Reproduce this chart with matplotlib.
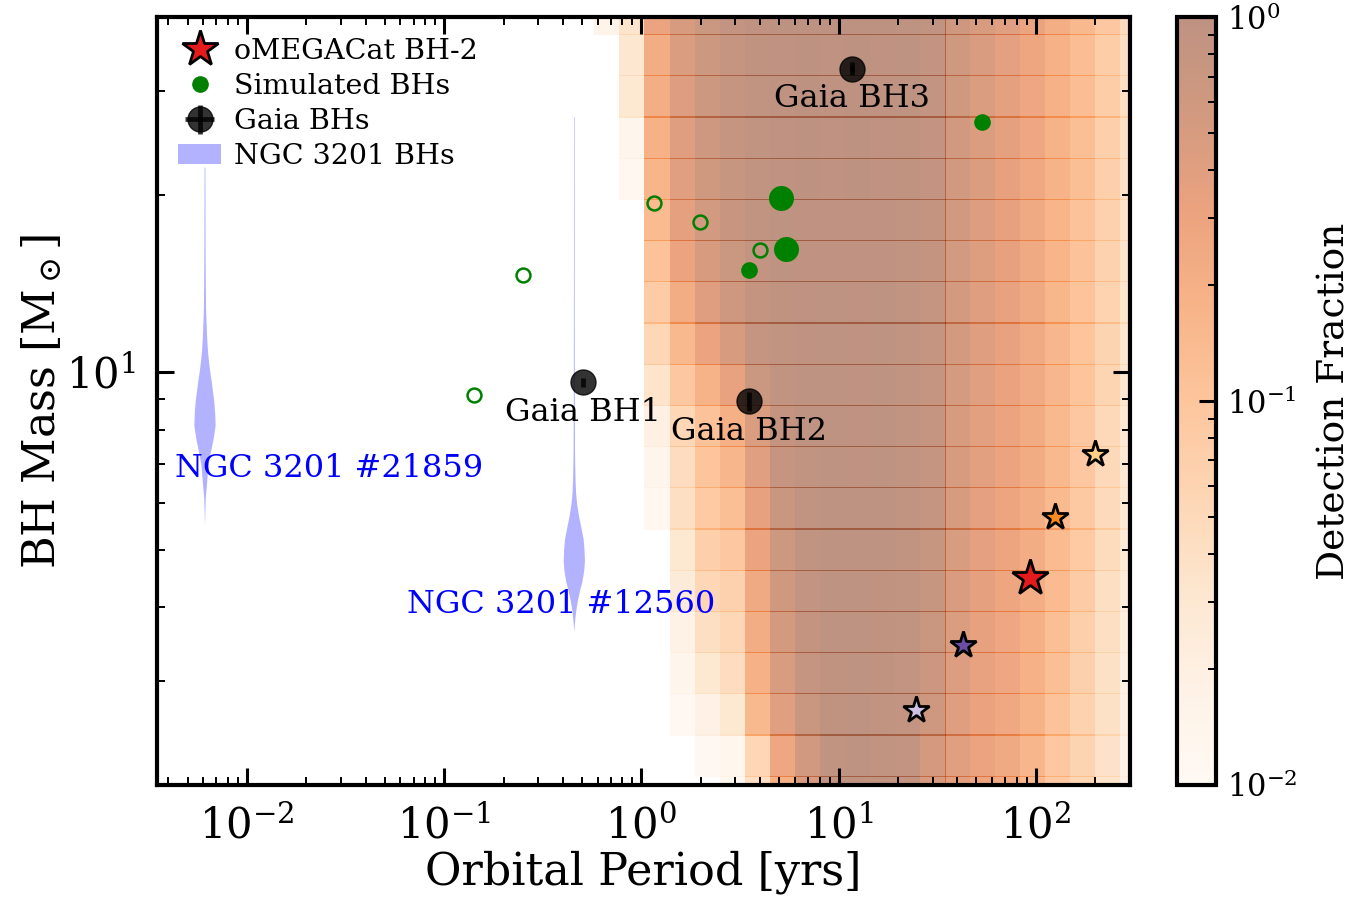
import numpy as np
import matplotlib
matplotlib.use("Agg")
import matplotlib.pyplot as plt
from matplotlib.colors import LogNorm
from matplotlib.lines import Line2D
from matplotlib.patches import Patch
from matplotlib.ticker import NullFormatter

plt.rcParams["font.family"] = "DejaVu Serif"
plt.rcParams["mathtext.fontset"] = "dejavuserif"

# ---------------------------------------------------------------------------
# Detection-fraction map: bin edges in log10(P / yr) and log10(M / Msun)
logp_edges = np.linspace(-0.238, 2.553, 23)
logm_edges = np.linspace(0.245, 1.641, 21)

# recovered fraction per (mass, period) bin, most massive row first
det_frac_rows = [
    [0.015, 0.035, 0.30, 0.50, 0.70, 0.88, 0.97, 1.0, 1.0, 1.0, 1.0, 1.0, 0.95, 0.9, 0.62, 0.5, 0.4, 0.3, 0.21, 0.15, 0.09, 0.045],
    [0, 0.032, 0.22, 0.45, 0.65, 0.82, 0.94, 0.98, 1.0, 0.98, 1.0, 0.98, 0.95, 0.88, 0.6, 0.47, 0.37, 0.28, 0.19, 0.13, 0.075, 0.04],
    [0, 0.03, 0.21, 0.44, 0.64, 0.80, 0.93, 0.98, 1.0, 0.98, 0.99, 0.98, 0.95, 0.88, 0.6, 0.46, 0.36, 0.27, 0.19, 0.13, 0.075, 0.04],
    [0, 0.014, 0.19, 0.42, 0.62, 0.78, 0.92, 0.97, 0.99, 0.98, 0.99, 0.98, 0.94, 0.87, 0.59, 0.46, 0.36, 0.27, 0.18, 0.12, 0.072, 0.038],
    [0, 0.012, 0.17, 0.40, 0.60, 0.77, 0.91, 0.97, 0.99, 0.97, 0.99, 0.97, 0.94, 0.86, 0.58, 0.45, 0.35, 0.26, 0.18, 0.12, 0.07, 0.037],
    [0, 0, 0.14, 0.36, 0.56, 0.74, 0.90, 0.96, 0.98, 0.97, 0.98, 0.97, 0.93, 0.85, 0.57, 0.44, 0.34, 0.25, 0.17, 0.11, 0.066, 0.035],
    [0, 0, 0.11, 0.30, 0.50, 0.70, 0.88, 0.95, 0.98, 0.97, 0.98, 0.97, 0.93, 0.84, 0.56, 0.43, 0.34, 0.25, 0.17, 0.11, 0.064, 0.034],
    [0, 0, 0.08, 0.22, 0.42, 0.62, 0.85, 0.94, 0.97, 0.96, 0.98, 0.96, 0.92, 0.83, 0.55, 0.42, 0.33, 0.25, 0.165, 0.105, 0.062, 0.033],
    [0, 0, 0.055, 0.15, 0.30, 0.50, 0.80, 0.93, 0.97, 0.96, 0.97, 0.96, 0.92, 0.82, 0.54, 0.42, 0.33, 0.24, 0.16, 0.1, 0.06, 0.032],
    [0, 0, 0.035, 0.09, 0.18, 0.33, 0.70, 0.90, 0.96, 0.96, 0.97, 0.96, 0.92, 0.81, 0.53, 0.41, 0.32, 0.24, 0.16, 0.1, 0.058, 0.031],
    [0, 0, 0.02, 0.055, 0.11, 0.2, 0.45, 0.85, 0.95, 0.96, 0.97, 0.95, 0.91, 0.8, 0.5, 0.38, 0.3, 0.23, 0.15, 0.09, 0.05, 0.028],
    [0, 0, 0.014, 0.045, 0.1, 0.16, 0.4, 0.78, 0.93, 0.95, 0.97, 0.95, 0.91, 0.79, 0.5, 0.38, 0.3, 0.23, 0.15, 0.09, 0.05, 0.028],
    [0, 0, 0.012, 0.04, 0.085, 0.12, 0.35, 0.72, 0.92, 0.95, 0.96, 0.95, 0.9, 0.78, 0.49, 0.37, 0.29, 0.22, 0.145, 0.088, 0.048, 0.027],
    [0, 0, 0, 0.03, 0.07, 0.09, 0.3, 0.66, 0.9, 0.95, 0.96, 0.95, 0.9, 0.77, 0.48, 0.37, 0.29, 0.22, 0.14, 0.085, 0.046, 0.026],
    [0, 0, 0, 0.025, 0.055, 0.065, 0.25, 0.6, 0.88, 0.95, 0.96, 0.94, 0.9, 0.75, 0.47, 0.36, 0.28, 0.21, 0.14, 0.08, 0.042, 0.024],
    [0, 0, 0, 0.018, 0.042, 0.055, 0.22, 0.55, 0.85, 0.95, 0.96, 0.94, 0.9, 0.72, 0.45, 0.34, 0.27, 0.2, 0.12, 0.07, 0.04, 0.021],
    [0, 0, 0, 0.014, 0.03, 0.045, 0.19, 0.48, 0.8, 0.94, 0.95, 0.94, 0.89, 0.68, 0.44, 0.33, 0.27, 0.19, 0.12, 0.068, 0.039, 0.02],
    [0, 0, 0, 0.011, 0.018, 0.03, 0.15, 0.4, 0.72, 0.94, 0.95, 0.93, 0.89, 0.62, 0.42, 0.32, 0.26, 0.18, 0.11, 0.064, 0.038, 0.019],
    [0, 0, 0, 0, 0.011, 0.013, 0.055, 0.27, 0.58, 0.93, 0.95, 0.93, 0.88, 0.55, 0.4, 0.3, 0.25, 0.16, 0.09, 0.06, 0.037, 0.018],
    [0, 0, 0, 0, 0, 0.012, 0.04, 0.2, 0.5, 0.92, 0.94, 0.92, 0.86, 0.5, 0.38, 0.29, 0.24, 0.15, 0.085, 0.055, 0.035, 0.017],
]

# simulated black-hole companions
sim_period = [5.09, 5.38, 53.6, 3.53, 1.164, 1.977, 3.99, 0.250, 0.142]
sim_mass = [19.77, 16.19, 26.6, 14.89, 19.39, 17.95, 16.14, 14.63, 9.14]
sim_kind = ["large", "large", "filled", "filled", "open", "open", "open", "open", "open"]

# Gaia black holes
gaia_names = ["Gaia BH1", "Gaia BH2", "Gaia BH3"]
gaia_period = [0.5081, 3.496, 11.64]
gaia_period_err = [0.00014, 0.016, 0.27]
gaia_mass = [9.62, 8.94, 32.70]
gaia_mass_err = [0.18, 0.34, 0.82]

# oMEGACat BH-2 and alternative solutions
omega_period = 93.2
omega_mass = 4.48
alt_period = [200.0, 125.3, 42.8, 24.6]
alt_mass = [7.28, 5.68, 3.45, 2.68]
alt_colors = ["#fdcf84", "#fb8a1e", "#6a4ea3", "#cdc2e3"]

# NGC 3201 black holes: mass posteriors drawn as violins
ngc_names = ["NGC 3201 #21859", "NGC 3201 #12560"]
ngc_period = [0.00613, 0.457]
ngc_mass_grid = [
    [5.49, 5.76, 6.11, 6.47, 6.95, 7.20, 7.43, 7.72, 8.13, 8.52, 8.93, 9.28, 9.65,
     10.04, 10.44, 10.98, 11.56, 12.85, 14.45, 16.25, 19.77, 22.23],
    [3.63, 3.74, 3.86, 4.00, 4.13, 4.28, 4.41, 4.61, 4.79, 5.00, 5.22, 5.47, 5.71,
     5.99, 6.23, 6.53, 7.00, 7.43, 9.03, 13.36, 19.77, 27.04],
]
ngc_density = [
    [0, 0.03, 0.07, 0.19, 0.33, 0.47, 0.63, 0.82, 1.0, 0.96, 0.87, 0.75, 0.63,
     0.49, 0.37, 0.26, 0.19, 0.10, 0.075, 0.056, 0.047, 0.037],
    [0, 0.05, 0.12, 0.23, 0.37, 0.56, 0.75, 0.93, 1.0, 0.96, 0.87, 0.65, 0.44,
     0.26, 0.17, 0.12, 0.084, 0.065, 0.047, 0.037, 0.033, 0.028],
]
ngc_label_xy = [(0.00431, 6.87), (0.0649, 4.05)]

# ---------------------------------------------------------------------------
fig = plt.figure(figsize=(13.71, 8.97), dpi=100)
ax = fig.add_axes([0.1145, 0.1249, 0.7097, 0.8561])
cax = fig.add_axes([0.8585, 0.1249, 0.0284, 0.8561])

cmap = plt.get_cmap("Oranges")
norm = LogNorm(vmin=1e-2, vmax=1.0)
Z = np.array(det_frac_rows)[::-1]
Zm = np.ma.masked_less_equal(Z, 0)

# rows are drawn one by one with a sliver of overlap, so the semi-transparent
# cells leave thin darker seams along the bin boundaries
seam_y = 1.2 / 588.0
seam_x = 1.2 / 197.0
split = 14
ncol = Z.shape[1]
mesh = None
for i in range(Z.shape[0]):
    ye = 10 ** np.array([logm_edges[i], logm_edges[i + 1] + seam_y])
    for j0, j1, ext in ((0, split, seam_x), (split, ncol, 0.0)):
        le = logp_edges[j0:j1 + 1].copy()
        le[-1] += ext
        mesh = ax.pcolormesh(10 ** le, ye, Zm[i:i + 1, j0:j1], cmap=cmap, norm=norm,
                             alpha=0.5, shading="flat", edgecolors="none", zorder=1)

# violins (symmetric in log-period)
violin_halfwidth = 0.054
for p, mg, dn in zip(ngc_period, ngc_mass_grid, ngc_density):
    mg = np.asarray(mg)
    dn = np.asarray(dn)
    lp = np.log10(p)
    ax.fill_betweenx(mg, 10 ** (lp - violin_halfwidth * dn), 10 ** (lp + violin_halfwidth * dn),
                     facecolor="blue", alpha=0.3, edgecolor="none", zorder=2)
for name, (tx, ty) in zip(ngc_names, ngc_label_xy):
    ax.text(tx, ty, name, color="blue", fontsize=23, ha="left", va="center", zorder=5)

# simulated BHs
for p, m, k in zip(sim_period, sim_mass, sim_kind):
    if k == "large":
        ax.plot(p, m, "o", color="green", ms=18, mew=0, zorder=4)
    elif k == "filled":
        ax.plot(p, m, "o", color="green", ms=12, mew=0, zorder=4)
    else:
        ax.plot(p, m, "o", mfc="none", mec="green", ms=10, mew=1.8, zorder=4)

# Gaia BHs
gaia = ax.errorbar(gaia_period, gaia_mass, xerr=gaia_period_err, yerr=gaia_mass_err,
                   fmt="o", color="k", alpha=0.8, ms=18, elinewidth=3.4, capsize=0, zorder=4)
for name, p, m in zip(gaia_names, gaia_period, gaia_mass):
    ax.annotate(name, (p, m), xytext=(0, -21.6), textcoords="offset points",
                ha="center", va="center", fontsize=23, zorder=5)

# stars
for p, m, c in zip(alt_period, alt_mass, alt_colors):
    ax.plot(p, m, "*", mfc=c, mec="k", ms=20, mew=2, zorder=6)
ax.plot(omega_period, omega_mass, "*", mfc="#e41a1c", mec="k", ms=27, mew=2, zorder=7)

# axes
ax.set_xscale("log")
ax.set_yscale("log")
ax.set_xlim(0.0035, 300)
ax.set_ylim(2, 40)
ax.yaxis.set_minor_formatter(NullFormatter())
ax.set_xlabel("Orbital Period [yrs]", fontsize=32, labelpad=2)
ax.set_ylabel(r"BH Mass [M$_\odot$]", fontsize=32, labelpad=2)
ax.tick_params(which="both", direction="in", top=True, right=True, labelsize=30, pad=15)
ax.tick_params(which="major", length=12, width=2.2)
ax.tick_params(which="minor", length=6, width=1.4)
for s in ax.spines.values():
    s.set_linewidth(3)

legend_handles = [
    Line2D([], [], ls="", marker="*", mfc="#e41a1c", mec="k", ms=27, mew=2),
    Line2D([], [], ls="", marker="o", color="green", ms=12, mew=0),
    gaia,
    Patch(facecolor="blue", alpha=0.3, edgecolor="none"),
]
legend_labels = ["oMEGACat BH-2", "Simulated BHs", "Gaia BHs", "NGC 3201 BHs"]
ax.legend(legend_handles, legend_labels, loc="upper left", frameon=False, fontsize=20.5,
          handlelength=1.5, handletextpad=0.45, labelspacing=0.28, borderaxespad=0.35)

# colorbar
cbar = fig.colorbar(mesh, cax=cax)
cbar.outline.set_linewidth(3)
cax.tick_params(which="both", direction="in", labelsize=22, pad=8)
cax.tick_params(which="major", length=12, width=2.2)
cax.tick_params(which="minor", length=6, width=1.4)
cbar.set_label("Detection Fraction", fontsize=27, labelpad=14)

fig.savefig("out.png", dpi=100)
